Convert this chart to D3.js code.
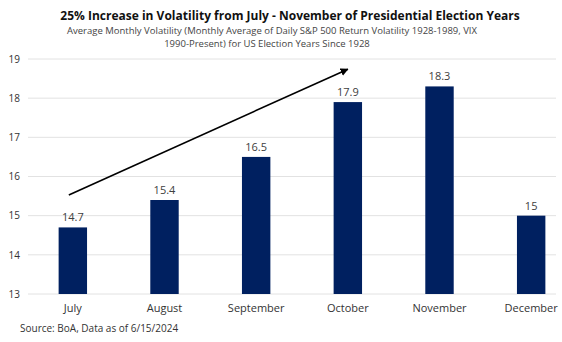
<!DOCTYPE html>
<html>
<head>
<meta charset="utf-8">
<script src="https://cdn.jsdelivr.net/npm/d3@7"></script>
<style>
  body { margin: 0; background: #fff; }
  text { font-family: "Open Sans", "Noto Sans", sans-serif; }
</style>
</head>
<body>
<div id="chart"></div>
<script>
var months = ["July", "August", "September", "October", "November", "December"];
var volatility = [14.7, 15.4, 16.5, 17.9, 18.3, 15];
var yTicks = [13, 14, 15, 16, 17, 18, 19];
// trend arrow: from July to October, in data units
var arrowFrom = ["July", 15.53];
var arrowTo = ["October", 18.74];

function init() {
  var w = 562;
  var h = 342;

  var svg = d3.select("#chart")
    .append("svg")
    .attr("width", w)
    .attr("height", h);

  var x = d3.scaleBand()
    .domain(months)
    .range([27, 577])
    .paddingInner(0.69)
    .paddingOuter(0.345);

  var y = d3.scaleLinear()
    .domain([13, 19])
    .range([294, 59]);

  svg.append("defs").append("marker")
    .attr("id", "head")
    .attr("viewBox", "0 0 10 10")
    .attr("refX", 9)
    .attr("refY", 5)
    .attr("markerWidth", 5)
    .attr("markerHeight", 5)
    .attr("orient", "auto")
    .append("path")
    .attr("d", "M0,0L10,5L0,10z")
    .attr("fill", "#000");

  // title
  svg.append("text")
    .attr("x", 290).attr("y", 20)
    .attr("text-anchor", "middle")
    .attr("font-size", "12px")
    .attr("font-weight", "bold")
    .attr("fill", "#111")
    .text("25% Increase in Volatility from July - November of Presidential Election Years");

  svg.append("text")
    .attr("x", 272).attr("y", 34)
    .attr("text-anchor", "middle")
    .attr("font-size", "9.5px")
    .attr("fill", "#444")
    .text("Average Monthly Volatility (Monthly Average of Daily S&P 500 Return Volatility 1928-1989, VIX");

  svg.append("text")
    .attr("x", 267).attr("y", 47)
    .attr("text-anchor", "middle")
    .attr("font-size", "9.5px")
    .attr("fill", "#444")
    .text("1990-Present) for US Election Years Since 1928");

  // grid
  svg.append("g")
    .selectAll("line")
    .data(yTicks)
    .enter()
    .append("line")
    .attr("x1", 28)
    .attr("x2", 556)
    .attr("y1", function(d) { return y(d); })
    .attr("y2", function(d) { return y(d); })
    .attr("stroke", "#e2e2e2")
    .attr("stroke-width", 1);

  var yAxis = svg.append("g")
    .attr("transform", "translate(20,0)")
    .call(d3.axisLeft(y).tickValues(yTicks).tickFormat(d3.format("d")).tickSize(0).tickPadding(0));
  yAxis.select(".domain").remove();
  yAxis.selectAll("text")
    .attr("font-size", "10px")
    .attr("fill", "#333")
    .style("font-family", "'Open Sans', sans-serif");

  svg.selectAll("rect.bar")
    .data(volatility)
    .enter()
    .append("rect")
    .attr("class", "bar")
    .attr("x", function(d, i) { return x(months[i]); })
    .attr("width", x.bandwidth())
    .attr("y", function(d) { return y(d); })
    .attr("height", function(d) { return y(13) - y(d); })
    .attr("fill", "#002060");

  svg.selectAll("text.val")
    .data(volatility)
    .enter()
    .append("text")
    .attr("class", "val")
    .attr("x", function(d, i) { return x(months[i]) + x.bandwidth() / 2; })
    .attr("y", function(d) { return y(d) - 6; })
    .attr("text-anchor", "middle")
    .attr("font-size", "11px")
    .attr("fill", "#404040")
    .text(function(d) { return d; });

  var xAxis = svg.append("g")
    .attr("transform", "translate(0,294)")
    .call(d3.axisBottom(x).tickSize(0).tickPadding(10));
  xAxis.select(".domain").remove();
  xAxis.selectAll("text")
    .attr("font-size", "11px")
    .attr("fill", "#333")
    .style("font-family", "'Open Sans', sans-serif");

  // trend arrow
  svg.append("line")
    .attr("x1", x(arrowFrom[0]) + x.bandwidth() / 2 - 4)
    .attr("y1", y(arrowFrom[1]))
    .attr("x2", x(arrowTo[0]) + x.bandwidth() / 2)
    .attr("y2", y(arrowTo[1]))
    .attr("stroke", "#000")
    .attr("stroke-width", 1.6)
    .attr("marker-end", "url(#head)");

  svg.append("text")
    .attr("x", 20).attr("y", 332)
    .attr("font-size", "10px")
    .attr("fill", "#333")
    .text("Source:  BoA, Data as of 6/15/2024");
}

window.onload = init;
</script>
</body>
</html>
